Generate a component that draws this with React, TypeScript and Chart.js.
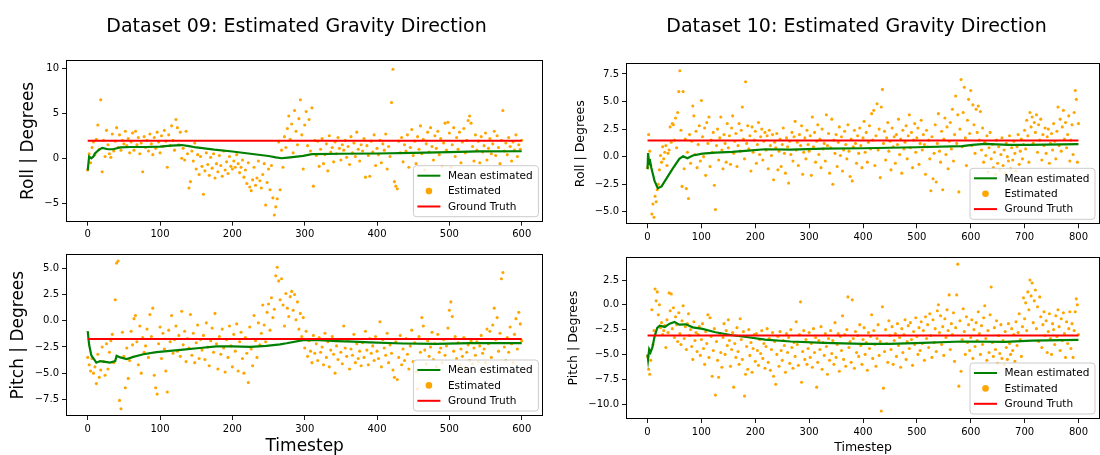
import React, { useEffect, useRef } from "react";
import { Chart, registerables } from "chart.js";

Chart.register(...registerables);

const FONT = "'DejaVu Sans', 'Liberation Sans', sans-serif";

// ---------- Dataset 09 (sampled every 2 timesteps, t = 0..600) ----------
const STEP09 = 2;
const ROLL09_EST = [
  -1.3, 0.5, -0.5, 1.2, 1.8, 0.4, 2.1, 3.7, 1.0, 6.5,
  -1.5, 2.0, 0.2, 3.1, 1.5, 0.5, 0.1, 2.7, 0.8, 1.9,
  3.4, 1.2, 2.6, 0.9, 2.0, 1.6, 3.0, 1.4, 2.2, 0.6,
  1.8, 2.8, 0.9, 3.0, 1.5, 2.3, 0.5, 1.7, -1.5, 2.4,
  1.2, 2.0, 0.8, 2.7, 1.6, 0.4, 2.3, 1.1, 2.9, 1.8,
  0.6, 2.5, 1.3, 3.1, 1.9, -1.0, 2.6, 1.4, 3.6, 2.0,
  0.9, 4.3, 3.4, 1.5, 2.9, 0.0, 1.1, -0.2, 3.0, 0.5,
  -3.3, -2.6, 0.8, -0.3, 1.7, -1.2, 0.4, -1.8, 0.2, -0.9,
  -4.0, -1.4, 0.6, -0.7, -1.9, 0.1, -1.1, 0.5, -2.2, -0.6,
  -1.5, 0.3, -0.8, -2.0, 0.8, -1.3, -0.4, -1.7, 0.2, -0.9,
  -1.2, -0.3, -1.0, 0.4, -0.6, -1.6, -1.0, -0.2, -2.1, -1.3,
  -2.8, -0.5, -3.2, -3.6, -2.4, -1.0, -3.0, -2.2, -0.3, -2.5,
  -3.3, -1.8, -0.6, -5.2, -2.7, -1.2, -3.5, -0.8, -4.4, -6.3,
  -5.4, -4.5, 1.8, -3.5, 0.9, -1.0, 2.4, 1.2, 3.3, 4.7,
  2.1, 3.8, 0.6, 5.3, 3.0, 1.5, 4.4, 6.5, 2.6, -1.2,
  3.7, 5.2, 1.4, 4.3, 0.8, 5.6, -3.1, 2.0, 0.3, 1.9,
  -0.9, 1.0, 2.2, -0.6, 0.4, 1.6, -1.4, 2.5, 0.7, 1.2,
  -0.4, 1.8, 0.5, 2.3, 1.1, -0.2, 1.5, 0.9, 2.0, 0.1,
  1.3, -0.7, 2.4, 0.6, 1.7, 0.2, 2.9, 1.0, -0.3, 1.5,
  0.8, 2.2, -2.1, 1.4, 0.3, -2.0, 1.9, 0.7, 2.6, -0.8,
  1.1, 0.4, 2.0, -0.5, 1.6, 0.9, 2.7, -1.2, 1.3, 0.2,
  6.2, 9.9, -2.6, -3.1, -3.4, 1.9, 0.6, 2.3, -0.4, 1.5,
  0.8, 2.6, -1.0, 1.2, 3.2, 0.3, 1.9, -0.6, 2.4, 1.0,
  3.6, 0.5, 2.1, -1.3, 1.6, 2.9, 0.7, 3.4, 1.3, -0.2,
  2.5, 1.1, 3.0, 0.4, 2.2, -0.9, 1.7, 3.9, 0.9, 4.0,
  2.8, -1.0, 1.5, 3.4, 0.2, 2.3, 1.0, 2.9, -0.5, 1.8,
  3.3, 0.6, 2.0, 4.2, 4.7, 3.9, 1.3, -0.3, 2.6, 0.9,
  1.9, -0.5, 2.4, 0.7, 1.4, 2.8, -0.2, 1.1, 2.2, 0.5,
  1.6, 3.0, 0.3, 2.5, 1.2, -0.6, 2.0, 5.3, 0.8, 1.7,
  0.4, 2.3, 1.3, -0.3, 1.8, 0.9, 2.6, 0.2, 1.5, 1.0,
  2.0,
];
const PITCH09_EST = [
  -3.5, -4.2, -4.8, -3.6, -5.0, -4.4, -6.0, -3.2, -5.4, -4.7,
  -2.5, -3.9, -5.2, -2.2, -4.6, -3.0, -1.9, -1.3, -4.0, 2.0,
  5.5, 5.7, -7.6, -8.4, -1.1, -3.4, -6.4, -2.6, -5.5, -3.8,
  -1.0, -2.3, 0.2, 0.5, -2.0, -4.2, -0.5, -5.0, -1.6, -3.0,
  -2.4, -0.8, -3.5, 0.6, -1.5, 1.2, -5.2, -6.4, -7.0, -2.2,
  -0.6, -3.6, -1.2, -2.7, -4.8, -6.8, -0.9, -2.0, 0.5, -3.1,
  -1.8, -0.5, -2.9, -1.4, -3.4, 0.9, -2.3, -1.0, -3.9, -1.7,
  -2.6, 0.6, -3.3, -1.2, -4.0, -2.1, -0.4, -3.6, -1.8, -2.8,
  -1.4, -3.7, -0.2, -2.5, -4.3, -1.9, -0.7, -3.0, 0.7, -2.2,
  -4.6, -1.5, -3.2, -0.8, -2.6, -4.9, -1.8, -3.5, -0.5, -2.4,
  -4.4, -1.3, -2.9, -0.3, -4.8, -2.0, -1.1, -3.6, -5.0, -1.6,
  -3.1, -5.9, -0.6, -2.7, -4.3, 0.5, -1.9, -3.5, -0.2, -2.3,
  -1.2, 1.5, -0.4, -2.0, 0.8, 1.6, -0.9, 2.2, 0.3, 1.1,
  4.3, 5.1, 3.8, 2.0, 4.0, 1.5, -0.5, 2.6, 1.2, 0.4,
  2.3, 2.8, 1.0, 2.5, 0.1, 1.8, -0.8, 0.7, -1.5, 0.3,
  -2.6, -1.0, -3.4, -1.9, -2.9, -4.0, -1.4, -3.1, -2.2, -3.8,
  -1.6, -3.0, -2.5, -4.2, -1.2, -3.5, -2.0, -4.4, -2.8, -1.5,
  -3.2, -5.0, -2.4, -3.7, -1.8, -3.0, -4.1, -0.5, -2.6, -3.4,
  -1.9, -4.6, -2.7, -3.3, -1.3, -4.0, -2.2, -3.6, -2.9, -4.3,
  -2.1, -3.5, -1.0, -2.8, -4.2, -1.7, -3.1, -2.4, -3.8, -1.5,
  -2.9, -3.6, -0.1, -4.4, -1.8, -2.6, -3.3, -1.2, -4.0, -2.3,
  -3.1, -4.7, -5.4, -2.0, -5.6, -3.5, -1.4, -4.2, -2.7, -3.8,
  -1.7, -3.2, -4.6, -2.4, -0.9, -3.9, -2.1, -4.9, -6.5, -1.5,
  -3.0, 0.3, -0.5, -2.8, -4.1, -1.9, -3.4, -2.5, -1.1, -3.7,
  -2.2, -4.4, -1.3, -3.0, -2.6, -4.0, -1.8, -3.3, -2.4, -0.7,
  1.0, 1.8, 0.4, -2.9, -1.5, -3.6, -2.1, -4.2, -2.7, -3.4,
  -1.6, -4.5, -3.0, -2.3, -3.8, -1.9, -4.1, -2.6, -3.3, -2.0,
  -3.9, -2.4, -1.4, -3.1, -2.7, -4.0, -0.8, -2.2, -1.0, -3.5,
  -0.4, 1.2, -1.8, 0.3, -2.9, -1.2, 4.0, 4.6, -2.5, -3.8,
  -1.6, -3.0, -0.6, -2.2, -4.0, -1.3, 0.2, -2.7, 0.8, -0.3,
  -1.9,
];
const ROLL09_MEAN_T = [0, 2, 5, 8, 10, 15, 20, 28, 35, 45, 60, 80, 100, 115, 130, 140, 150, 175, 200, 225, 250, 260, 268, 280, 298, 310, 350, 400, 450, 500, 540, 600];
const ROLL09_MEAN = [-1.35, 0.2, 0.0, 0.2, 0.55, 0.9, 1.15, 1.0, 1.0, 1.2, 1.25, 1.25, 1.3, 1.4, 1.47, 1.35, 1.2, 0.95, 0.75, 0.5, 0.25, 0.1, 0.0, 0.1, 0.26, 0.46, 0.5, 0.53, 0.6, 0.68, 0.76, 0.78];
const PITCH09_MEAN_T = [0, 2, 5, 12, 17, 22, 31, 38, 40, 45, 54, 63, 77, 95, 110, 132, 155, 178, 200, 225, 247, 266, 275, 298, 321, 344, 367, 390, 436, 482, 528, 600];
const PITCH09_MEAN = [-1.0, -2.3, -3.3, -4.0, -3.85, -3.9, -4.0, -3.85, -3.35, -3.5, -3.65, -3.45, -3.2, -3.0, -2.9, -2.75, -2.6, -2.45, -2.45, -2.5, -2.4, -2.25, -2.15, -1.85, -1.85, -1.94, -2.0, -2.07, -2.17, -2.2, -2.13, -2.13];
const ROLL09_TRUTH = 1.95;
const PITCH09_TRUTH = -1.75;

// ---------- Dataset 10 (sampled every 2 timesteps, t = 0..800) ----------
const STEP10 = 2;
const ROLL10_EST = [
  -1.0, 2.0, 0.5, -0.8, -5.2, -4.3, -5.5, -3.6, -4.1, -3.0,
  -2.5, -1.2, 0.1, -0.5, 0.9, -0.2, 0.4, 1.0, -0.8, 0.3,
  0.6, 2.7, 1.3, 3.0, 2.9, 1.5, 3.5, 0.8, 4.0, 5.9,
  7.8, 2.4, -2.7, 5.9, -1.1, 1.6, -2.9, 0.4, -3.8, 2.0,
  -0.6, 1.4, 4.6, 3.7, 0.2, 2.3, -1.0, 1.1, 2.8, -0.4,
  5.1, 1.8, 0.0, 2.6, -1.7, 3.1, 1.2, 3.6, -0.9, 1.5,
  0.4, 2.2, -2.6, -4.8, 1.0, 2.5, -0.3, 1.7, 3.6, 0.6,
  -1.1, 2.0, 1.2, -0.5, 3.0, 0.8, 1.9, -0.7, 2.6, 3.7,
  0.3, 1.4, 2.1, -0.9, 1.0, 3.0, 0.5, 2.4, 4.5, 1.6,
  -0.2, 6.8, 1.2, 2.8, 0.7, 1.9, -1.3, 2.7, 0.4, 1.5,
  2.3, -0.6, 1.1, 3.1, 0.2, 1.8, 2.5, -0.3, 1.4, 2.2,
  0.6, 1.9, -1.1, 2.4, 1.0, 0.1, 2.0, -2.1, 1.3, 0.8,
  2.1, -1.2, 0.5, 1.6, -0.9, 1.1, 2.6, 0.3, -1.5, 1.7,
  0.9, -2.4, 1.4, 0.2, 2.2, -0.4, 1.8, 3.2, 0.6, 1.3,
  -0.8, 2.0, 1.0, 2.8, -1.6, 0.4, 1.7, -0.2, 2.4, 1.1,
  0.5, 1.9, -1.7, 3.6, 0.9, 2.2, -0.5, 1.4, 2.9, 0.2,
  1.6, -1.0, 2.5, 0.7, 1.2, -0.4, 3.8, 1.0, 2.1, -1.5,
  0.8, 3.4, -2.5, 1.5, 0.3, 2.0, -0.9, 1.3, 2.7, 0.1,
  1.8, -1.3, 0.6, 2.3, 1.1, -0.2, 2.9, 0.5, -1.8, 1.6,
  -2.2, 0.9, 2.4, 1.2, -0.6, 1.9, 0.3, 2.6, 1.0, -1.0,
  1.7, 3.2, 0.4, 2.2, -0.5, 1.3, 2.8, 0.7, 3.9, 1.5,
  4.2, -0.8, 1.9, 4.8, 0.6, 2.5, -1.9, 4.5, 6.1, 1.2,
  2.3, -0.3, 1.7, 3.1, 0.5, 1.4, -1.2, 2.6, 0.9, 1.8,
  -0.6, 2.0, 1.1, 3.4, 0.2, 1.6, -1.5, 2.4, 0.7, 1.3,
  2.8, -0.2, 1.9, 3.8, 0.8, 2.2, -1.0, 1.5, 3.0, 0.4,
  1.7, 2.6, -0.7, 1.2, 3.3, 0.6, 2.0, 1.1, -1.6, 2.4,
  0.9, 1.5, -0.2, -3.1, 1.8, -2.0, 0.3, 2.9, -2.3, 1.2,
  3.9, 0.5, -0.5, 2.3, -3.0, 1.6, 3.5, 0.2, 2.7, -1.1,
  1.4, 3.1, 0.7, 4.3, -0.4, 2.0, 5.5, 1.2, 3.8, -3.2,
  2.5, 7.0, 0.9, 4.0, 6.3, 1.7, -0.8, 3.3, 5.2, 2.1,
  6.0, 1.0, 4.7, 2.9, 0.3, 4.3, 2.2, 4.6, 1.5, 4.1,
  0.6, 2.6, -0.5, 1.3, 0.1, 1.9, -1.4, 0.8, 2.2, -0.2,
  1.1, -1.0, 0.4, -1.6, 1.5, -0.6, 0.9, -1.2, 0.2, 1.7,
  -0.8, 0.6, -1.5, 1.2, 0.0, -0.4, 1.9, -1.1, 0.8, -0.3,
  1.4, 0.3, -1.3, 0.9, 2.0, -0.7, 0.5, 1.6, -0.2, 1.1,
  2.4, 0.7, 3.3, 1.9, -0.5, 4.0, 2.7, 3.6, 1.2, 3.1,
  2.2, 3.8, 0.4, 2.9, 1.5, 3.4, -0.3, 2.0, 1.0, 2.6,
  0.3, 1.8, 2.5, -0.6, 1.2, 2.1, 0.6, 3.0, 1.4, -0.2,
  2.3, 4.5, 1.0, 3.4, 0.5, 2.7, 4.2, 1.6, 3.1, 0.8,
  2.0, 3.7, -0.4, 1.5, 2.9, 0.2, 4.0, 6.0, 5.2, -0.5,
  3.0,
];
const PITCH10_EST = [
  -5.2, -6.5, -7.0, -5.6, -0.5, -4.0, -2.6, 1.6, 0.4, 1.3,
  -1.0, 0.0, -2.3, -1.8, -3.0, -2.6, -2.1, -4.3, -1.5, -2.8,
  1.2, -0.6, 1.1, -2.4, -0.3, -3.3, -1.2, -2.0, -3.7, -0.8,
  -2.9, -4.0, -1.6, -0.1, -3.4, -2.2, -4.5, -1.9, -0.9, -3.1,
  -2.5, -4.2, -5.5, -1.7, -3.6, -2.8, -4.7, -3.0, -2.2, -5.1,
  -3.5, -1.9, -4.4, -6.0, -2.7, -3.9, -1.0, -5.3, -1.3, -3.2,
  -7.2, -4.6, -2.4, -9.1, -3.7, -5.6, -7.3, -2.9, -4.8, -6.3,
  -3.3, -1.9, -5.0, -2.6, -4.1, -1.5, -3.6, -6.2, -4.5, -2.8,
  -8.3, -3.9, -5.3, -2.3, -4.7, -6.0, -1.4, -3.5, -5.5, -2.7,
  -9.2, -7.0, -4.2, -6.5, -2.5, -5.1, -3.8, -6.8, -4.4, -3.0,
  -5.7, -2.9, -4.6, -6.1, -3.5, -4.9, -2.6, -5.4, -3.9, -6.4,
  -4.2, -2.4, -5.8, -3.4, -6.6, -4.5, -2.8, -7.2, -3.7, -8.0,
  -5.0, -3.2, -6.2, -2.7, -4.6, -5.6, -3.6, -4.1, -6.8, -2.9,
  -4.8, -3.3, -5.9, -2.5, -4.3, -6.4, -3.8, -5.2, -1.7, -4.0,
  -6.1, -3.0, 0.3, -7.8, -4.7, -2.6, -5.5, -3.5, -6.0, -4.4,
  -2.8, -5.3, -3.9, -6.3, -2.4, -4.8, -3.3, -8.3, -5.8, -3.6,
  -4.5, -2.2, -6.5, -3.8, -5.1, -2.9, -4.2, -7.0, -3.4, -5.6,
  -2.6, -4.9, -3.6, -6.0, -1.8, -5.3, -4.0, -2.9, -6.7, -3.2,
  -4.6, -1.1, -5.5, -3.0, -6.2, -2.5, 0.8, -4.3, -3.7, -5.8,
  0.5, -3.4, -6.4, -2.7, -4.8, -3.1, -5.2, -2.0, -4.1, -6.0,
  -3.5, -2.3, -5.0, -3.8, -6.6, -2.8, -4.4, -3.2, -1.0, -5.4,
  -2.6, -4.0, -6.2, -3.4, -2.0, -5.1, -3.7, -10.7, -0.2, -8.4,
  -4.7, -2.5, -3.9, -5.8, -1.6, -3.1, -4.5, -2.2, -6.0, -3.6,
  -2.9, -5.2, -1.9, -4.1, -3.3, -6.3, -2.4, -4.8, -3.0, -1.5,
  -5.5, -3.7, -2.1, -4.4, -1.8, -3.5, -6.1, -2.7, -4.0, -1.3,
  -3.2, -5.0, -2.3, -4.6, -1.7, -3.9, -2.6, -5.6, -1.2, -3.4,
  -2.0, -4.3, -0.9, -3.1, -5.3, -1.5, -3.8, -2.4, -4.7, -0.6,
  0.0, -2.8, -1.1, -4.0, -2.2, -5.1, -1.4, -3.3, -0.5, -2.6,
  1.0, -4.5, -1.9, -3.0, -0.8, -5.7, -2.3, 1.0, 4.1, -8.2,
  -1.6, -6.7, -3.5, -0.4, -2.7, -5.0, -1.2, -3.8, -2.0, -4.6,
  -3.3, -1.5, -5.4, -2.5, -4.2, -1.8, -3.6, -0.7, -2.9, -5.0,
  -2.1, -4.0, -1.3, -0.1, -3.4, -5.6, -2.6, -4.8, -1.0, 1.8,
  -3.8, -5.2, -2.3, -4.5, -1.6, -5.9, -3.1, -4.9, -2.0, -5.4,
  -3.6, -6.0, -2.7, -4.3, -5.5, -1.9, -3.9, -5.0, -2.4, -4.6,
  -3.0, -5.7, -1.7, -4.1, -2.8, -0.9, -3.5, -5.2, -2.2, 0.7,
  -1.4, 0.2, -2.6, 1.3, -0.5, 2.5, 0.9, 2.2, -1.8, 0.4,
  1.5, -2.4, -0.2, -3.7, 0.8, -1.2, -4.3, -2.0, -0.7, -3.1,
  -1.6, -4.8, -2.7, -0.9, -3.4, -5.0, -1.9, -2.5, -4.0, -1.1,
  -3.2, -0.5, -2.2, -4.6, -1.4, -3.6, -0.8, -2.9, -5.3, -1.7,
  -3.9, -2.4, -0.7, -4.4, -1.9, -5.3, -2.6, -0.7, 0.6, 0.0,
  -3.0,
];
const ROLL10_MEAN_T = [0, 1, 3, 4, 7, 13, 19, 26, 35, 47, 59, 66, 74, 84, 102, 126, 157, 187, 218, 266, 327, 400, 500, 584, 603, 627, 670, 707, 800];
const ROLL10_MEAN = [-1.13, 0.33, -0.67, -0.2, -1.0, -2.2, -2.87, -2.7, -2.0, -1.07, -0.2, 0.03, -0.15, 0.1, 0.27, 0.37, 0.43, 0.55, 0.67, 0.64, 0.72, 0.76, 0.85, 0.95, 1.07, 1.16, 1.07, 1.07, 1.13];
const PITCH10_MEAN_T = [0, 1, 3, 5.5, 9, 13, 18, 22.5, 32, 41, 50, 59, 71, 84, 102, 126, 157, 187, 218, 266, 327, 400, 449, 511, 584, 664, 713, 800];
const PITCH10_MEAN = [-5.0, -5.5, -4.5, -4.8, -4.3, -3.2, -2.33, -2.1, -2.23, -1.9, -1.73, -2.0, -1.97, -2.27, -2.43, -2.77, -3.07, -3.27, -3.5, -3.7, -3.83, -3.93, -3.93, -3.83, -3.7, -3.73, -3.6, -3.53];
const ROLL10_TRUTH = 1.46;
const PITCH10_TRUTH = -3.1;

// ---------- ticks ----------
const X09_TICKS = [0, 100, 200, 300, 400, 500, 600];
const X10_TICKS = [0, 100, 200, 300, 400, 500, 600, 700, 800];
const ROLL09_TICKS = [-5, 0, 5, 10];
const PITCH09_TICKS = [-7.5, -5, -2.5, 0, 2.5, 5];
const ROLL10_TICKS = [-5, -2.5, 0, 2.5, 5, 7.5];
const PITCH10_TICKS = [-10, -7.5, -5, -2.5, 0, 2.5];

const LEGEND_LABELS = ["Mean estimated", "Estimated", "Ground Truth"];
const TITLE09 = "Dataset 09: Estimated Gravity Direction";
const TITLE10 = "Dataset 10: Estimated Gravity Direction";

const C_EST = "#FFA500";
const C_MEAN = "#008000";
const C_TRUTH = "#FF0000";

const fmt = (v: number, d: number) => {
  const s = Math.abs(v).toFixed(d);
  return v < 0 ? "\u2212" + s : s;
};

type Panel = {
  left: number; top: number; w: number; h: number;
  padTop: number; padRight: number; xAxisH: number; yAxisW: number;
  xMin: number; xMax: number; yMin: number; yMax: number;
  xTicks: number[]; yTicks: number[]; yDec: number;
  yLabel: string; yLabelSize: number; yLabelPad: number;
  xLabel: string | null; xLabelSize: number; xLabelPad: number;
  title: string | null;
  est: number[]; step: number; meanT: number[]; mean: number[]; truth: number; tEnd: number;
};

const PANELS: Panel[] = [
  {
    left: 0, top: 0, w: 550, h: 250, padTop: 60, padRight: 6.6, xAxisH: 28.3, yAxisW: 66,
    xMin: -30, xMax: 630, yMin: -7.05, yMax: 10.92, xTicks: X09_TICKS, yTicks: ROLL09_TICKS, yDec: 0,
    yLabel: "Roll | Degrees", yLabelSize: 17, yLabelPad: 18.3, xLabel: null, xLabelSize: 17, xLabelPad: 0,
    title: TITLE09, est: ROLL09_EST, step: STEP09, meanT: ROLL09_MEAN_T, mean: ROLL09_MEAN, truth: ROLL09_TRUTH, tEnd: 600,
  },
  {
    left: 0, top: 240, w: 550, h: 215, padTop: 14.3, padRight: 6.6, xAxisH: 39, yAxisW: 66,
    xMin: -30, xMax: 630, yMin: -9.09, yMax: 6.34, xTicks: X09_TICKS, yTicks: PITCH09_TICKS, yDec: 1,
    yLabel: "Pitch | Degrees", yLabelSize: 17, yLabelPad: 8.3, xLabel: "Timestep", xLabelSize: 17, xLabelPad: -1.5,
    title: null, est: PITCH09_EST, step: STEP09, meanT: PITCH09_MEAN_T, mean: PITCH09_MEAN, truth: PITCH09_TRUTH, tEnd: 600,
  },
  {
    left: 560, top: 0, w: 544, h: 252, padTop: 63.3, padRight: 0.6, xAxisH: 27.7, yAxisW: 66,
    xMin: -40, xMax: 840, yMin: -6.14, yMax: 8.47, xTicks: X10_TICKS, yTicks: ROLL10_TICKS, yDec: 1,
    yLabel: "Roll | Degrees", yLabelSize: 12.5, yLabelPad: 13, xLabel: null, xLabelSize: 12.5, xLabelPad: 0,
    title: TITLE10, est: ROLL10_EST, step: STEP10, meanT: ROLL10_MEAN_T, mean: ROLL10_MEAN, truth: ROLL10_TRUTH, tEnd: 800,
  },
  {
    left: 560, top: 240, w: 544, h: 215, padTop: 17.3, padRight: 0.6, xAxisH: 36, yAxisW: 66,
    xMin: -40, xMax: 840, yMin: -11.51, yMax: 4.79, xTicks: X10_TICKS, yTicks: PITCH10_TICKS, yDec: 1,
    yLabel: "Pitch | Degrees", yLabelSize: 12.5, yLabelPad: 6, xLabel: "Timestep", xLabelSize: 12.5, xLabelPad: 0,
    title: null, est: PITCH10_EST, step: STEP10, meanT: PITCH10_MEAN_T, mean: PITCH10_MEAN, truth: PITCH10_TRUTH, tEnd: 800,
  },
];

// Frame, matplotlib-style legend and title
const mplPlugin = {
  id: "mpl",
  afterDraw(chart: any, _args: any, opts: any) {
    const { ctx, chartArea: a } = chart;
    ctx.save();
    // axes frame
    ctx.strokeStyle = "#000";
    ctx.lineWidth = 1;
    const l = Math.round(a.left) + 0.5, t = Math.round(a.top) + 0.5;
    const r = Math.round(a.right) - 0.5, b = Math.round(a.bottom) - 0.5;
    ctx.strokeRect(l, t, r - l, b - t);

    // legend
    const bw = 125, bh = 51;
    const bx = a.right - 5 - bw, by = a.bottom - 5 - bh;
    const rad = 3;
    ctx.beginPath();
    ctx.moveTo(bx + rad, by);
    ctx.lineTo(bx + bw - rad, by);
    ctx.quadraticCurveTo(bx + bw, by, bx + bw, by + rad);
    ctx.lineTo(bx + bw, by + bh - rad);
    ctx.quadraticCurveTo(bx + bw, by + bh, bx + bw - rad, by + bh);
    ctx.lineTo(bx + rad, by + bh);
    ctx.quadraticCurveTo(bx, by + bh, bx, by + bh - rad);
    ctx.lineTo(bx, by + rad);
    ctx.quadraticCurveTo(bx, by, bx + rad, by);
    ctx.closePath();
    ctx.fillStyle = "rgba(255,255,255,0.8)";
    ctx.fill();
    ctx.strokeStyle = "#cccccc";
    ctx.lineWidth = 1;
    ctx.stroke();

    const rows = [10, 25.4, 40.8];
    const kinds = ["line", "dot", "line"];
    const colors = [C_MEAN, C_EST, C_TRUTH];
    ctx.font = `10.5px ${FONT}`;
    ctx.textBaseline = "middle";
    ctx.textAlign = "left";
    LEGEND_LABELS.forEach((lab, i) => {
      const cy = by + rows[i];
      if (kinds[i] === "line") {
        ctx.strokeStyle = colors[i];
        ctx.lineWidth = 2;
        ctx.beginPath();
        ctx.moveTo(bx + 4, cy);
        ctx.lineTo(bx + 27, cy);
        ctx.stroke();
      } else {
        ctx.fillStyle = colors[i];
        ctx.beginPath();
        ctx.arc(bx + 15.5, cy, 3.3, 0, Math.PI * 2);
        ctx.fill();
      }
      ctx.fillStyle = "#000";
      ctx.fillText(lab, bx + 34.5, cy + 0.5);
    });

    // title
    if (opts && opts.title) {
      ctx.font = `19px ${FONT}`;
      ctx.fillStyle = "#000";
      ctx.textAlign = "center";
      ctx.textBaseline = "alphabetic";
      ctx.fillText(opts.title, opts.titleX, opts.titleY);
    }
    ctx.restore();
  },
};

function buildConfig(p: Panel): any {
  const estData = p.est.map((v, i) => ({ x: i * p.step, y: v }));
  const meanData = p.meanT.map((t, i) => ({ x: t, y: p.mean[i] }));
  const truthData = [{ x: 0, y: p.truth }, { x: p.tEnd, y: p.truth }];
  const tickFont = { family: FONT, size: 10 };
  return {
    type: "scatter",
    data: {
      datasets: [
        {
          label: "Ground Truth", data: truthData, showLine: true, borderColor: C_TRUTH,
          borderWidth: 2, pointRadius: 0, fill: false, tension: 0, order: 0,
        },
        {
          label: "Mean estimated", data: meanData, showLine: true, borderColor: C_MEAN,
          borderWidth: 2.2, pointRadius: 0, fill: false, tension: 0, order: 1,
        },
        {
          label: "Estimated", data: estData, showLine: false, pointRadius: 1.55,
          pointBackgroundColor: C_EST, pointBorderWidth: 0, backgroundColor: C_EST, borderColor: C_EST, order: 2,
        },
      ],
    },
    options: {
      responsive: false,
      animation: false,
      events: [],
      layout: { padding: { left: 0, top: p.padTop, right: p.padRight, bottom: 0 } },
      plugins: {
        legend: { display: false },
        tooltip: { enabled: false },
        title: { display: false },
        mpl: { title: p.title, titleX: 296.5, titleY: 31.7 },
      },
      scales: {
        x: {
          type: "linear",
          position: "bottom",
          min: p.xMin,
          max: p.xMax,
          afterBuildTicks: (s: any) => { s.ticks = p.xTicks.map((v) => ({ value: v })); },
          afterFit: (s: any) => { s.height = p.xAxisH; },
          ticks: {
            font: tickFont, color: "#000", padding: 3, maxRotation: 0, minRotation: 0, autoSkip: false,
            callback: (v: number) => fmt(v, 0),
          },
          grid: { display: true, drawOnChartArea: false, drawTicks: true, tickLength: 4, color: "#000", lineWidth: 0.9 },
          border: { display: false },
          title: {
            display: !!p.xLabel, text: p.xLabel || "", color: "#000",
            font: { family: FONT, size: p.xLabelSize }, padding: { top: 0, bottom: p.xLabelPad },
          },
        },
        y: {
          type: "linear",
          position: "left",
          min: p.yMin,
          max: p.yMax,
          afterBuildTicks: (s: any) => { s.ticks = p.yTicks.map((v) => ({ value: v })); },
          afterFit: (s: any) => { s.width = p.yAxisW; },
          ticks: {
            font: tickFont, color: "#000", padding: 3, autoSkip: false,
            callback: (v: number) => fmt(v, p.yDec),
          },
          grid: { display: true, drawOnChartArea: false, drawTicks: true, tickLength: 4, color: "#000", lineWidth: 0.9 },
          border: { display: false },
          title: {
            display: true, text: p.yLabel, color: "#000",
            font: { family: FONT, size: p.yLabelSize }, padding: { top: p.yLabelPad, bottom: 0 },
          },
        },
      },
    },
    plugins: [mplPlugin],
  };
}

function PanelChart({ p }: { p: Panel }) {
  const ref = useRef<HTMLCanvasElement | null>(null);
  useEffect(() => {
    if (!ref.current) return;
    const chart = new Chart(ref.current, buildConfig(p));
    return () => chart.destroy();
  }, [p]);
  return (
    <canvas
      ref={ref}
      width={p.w}
      height={p.h}
      style={{ position: "absolute", left: p.left, top: p.top, width: p.w, height: p.h }}
    />
  );
}

export default function App() {
  return (
    <div
      style={{
        position: "fixed", left: 0, top: 0, width: 1100, height: 455,
        overflow: "hidden", background: "#fff",
      }}
    >
      {PANELS.map((p, i) => (
        <PanelChart key={i} p={p} />
      ))}
    </div>
  );
}
